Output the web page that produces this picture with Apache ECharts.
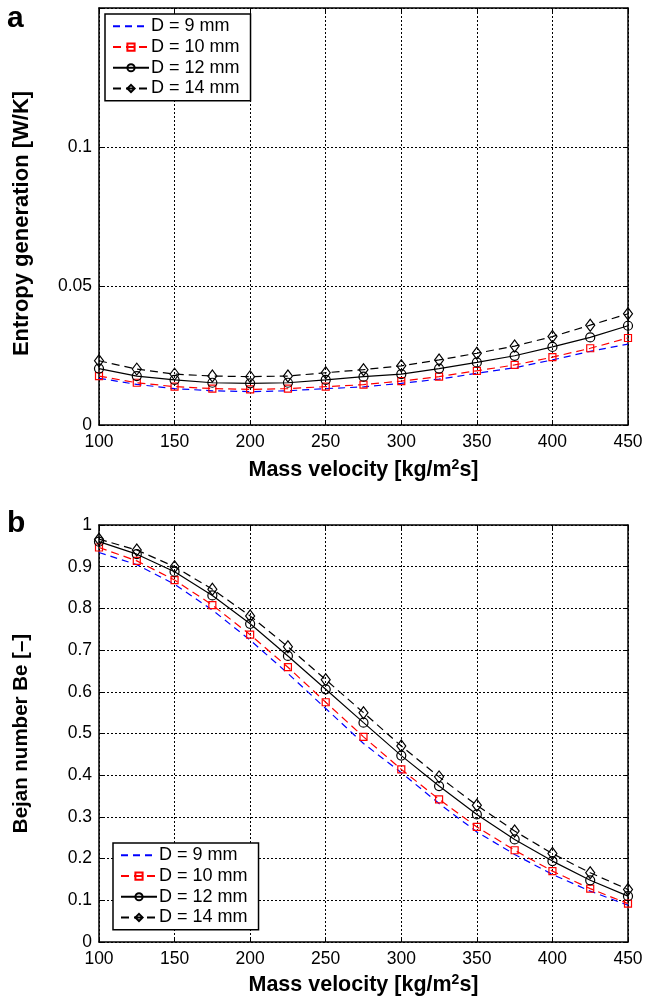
<!DOCTYPE html>
<html>
<head>
<meta charset="utf-8">
<script src="https://cdn.jsdelivr.net/npm/echarts@6/dist/echarts.min.js"></script>
<style>
html,body{margin:0;padding:0;background:#fff;}
#chart{width:646px;height:1000px;}
</style>
</head>
<body>
<div id="chart"></div>
<script>
// ---- data ----
const massVelocity = [100,125,150,175,200,225,250,275,300,325,350,375,400,425,450];
const seriesNames = ['D = 9 mm','D = 10 mm','D = 12 mm','D = 14 mm'];

// (a) Entropy generation [W/K]
const entropy9  = [0.0168,0.0146,0.0131,0.0123,0.0120,0.0123,0.0131,0.0137,0.0150,0.0165,0.0186,0.0206,0.0234,0.0265,0.0291];
const entropy10 = [0.0176,0.0152,0.0138,0.0131,0.0128,0.0131,0.0138,0.0145,0.0158,0.0174,0.0195,0.0216,0.0244,0.0276,0.0313];
const entropy12 = [0.0203,0.0176,0.0162,0.0152,0.0150,0.0152,0.0162,0.0174,0.0183,0.0203,0.0225,0.0249,0.0281,0.0315,0.0357];
const entropy14 = [0.0231,0.0201,0.0183,0.0176,0.0174,0.0176,0.0188,0.0199,0.0213,0.0234,0.0258,0.0284,0.0318,0.0359,0.0400];

// (b) Bejan number
const bejan9  = [0.934,0.905,0.858,0.796,0.724,0.644,0.560,0.476,0.406,0.332,0.264,0.210,0.162,0.122,0.088];
const bejan10 = [0.946,0.914,0.868,0.808,0.737,0.659,0.575,0.492,0.414,0.342,0.276,0.220,0.170,0.128,0.092];
const bejan12 = [0.960,0.930,0.888,0.831,0.763,0.686,0.606,0.526,0.447,0.374,0.306,0.246,0.194,0.148,0.110];
const bejan14 = [0.966,0.940,0.900,0.846,0.782,0.708,0.629,0.550,0.470,0.396,0.328,0.266,0.212,0.166,0.126];

const xTicks = {min:100, max:450, interval:50};
const yTicksA = {min:0, max:0.15, interval:0.05};
const yTicksB = {min:0, max:1, interval:0.1};

// ---- styles ----
const FONT = "'Liberation Sans', Arial, Helvetica, sans-serif";
const styles = [
  {color:'#0000ff', line:{type:[7,5], width:1.2}, symbol:'none', size:0},
  {color:'#ff0000', line:{type:[8,5], width:1.2}, symbol:'rect', size:7},
  {color:'#000000', line:{type:'solid', width:1.2}, symbol:'circle', size:9},
  {color:'#000000', line:{type:[8,5], width:1.2}, symbol:'diamond', size:[9,12]}
];

function pair(xs, ys){ return xs.map((x,i)=>[x, ys[i]]); }

function makeSeries(dataArrs, gi){
  return dataArrs.map((arr, k)=>{
    const s = styles[k];
    return {
      name: seriesNames[k], type:'line', xAxisIndex: gi*2, yAxisIndex: gi*2,
      data: pair(massVelocity, arr),
      symbol: s.symbol, symbolSize: s.size, showSymbol: s.symbol !== 'none',
      lineStyle: {color: s.color, width: s.line.width, type: s.line.type},
      itemStyle: {color: 'rgba(255,255,255,0)', borderColor: s.color, borderWidth: 1.2},
      z: 2 + k, silent: true
    };
  });
}

const axisLineStyle = {lineStyle:{color:'#000', width:1.5}};
function xAxes(gi, nameGap){
  return [
    {type:'value', gridIndex:gi, ...xTicks, position:'bottom',
     name:'{a|Mass velocity [kg/m}{s|2}{a|s]}', nameLocation:'middle', nameGap:nameGap,
     nameTextStyle:{rich:{
       a:{fontFamily:FONT, fontSize:21.5, fontWeight:'bold', color:'#000', lineHeight:25},
       s:{fontFamily:FONT, fontSize:14, fontWeight:'bold', color:'#000', verticalAlign:'top', lineHeight:15}
     }},
     axisLine:{show:true, onZero:false, ...axisLineStyle},
     axisTick:{show:true, inside:true, length:5, lineStyle:{color:'#000'}},
     axisLabel:{fontFamily:FONT, fontSize:17.5, color:'#000', margin:8},
     splitLine:{show:true, lineStyle:{color:'#000', type:[2,2], width:1}}},
    {type:'value', gridIndex:gi, ...xTicks, position:'top',
     axisLine:{show:true, onZero:false, ...axisLineStyle},
     axisTick:{show:true, inside:true, length:5, lineStyle:{color:'#000'}},
     axisLabel:{show:false}, splitLine:{show:false}}
  ];
}
function yAxes(gi, ticks, name, hideTop, pad, fs, gap){
  return [
    {type:'value', gridIndex:gi, ...ticks, position:'left',
     name:name, nameLocation:'middle', nameGap:gap,
     nameTextStyle:{fontFamily:FONT, fontSize:fs, fontWeight:'bold', color:'#000', padding:pad},
     axisLine:{show:true, onZero:false, ...axisLineStyle},
     axisTick:{show:true, inside:true, length:5, lineStyle:{color:'#000'}},
     axisLabel:{fontFamily:FONT, fontSize:17.5, color:'#000', margin:7,
       formatter:(v)=>{ if(hideTop && Math.abs(v-ticks.max)<1e-9) return ''; return String(+v.toFixed(3)); }},
     splitLine:{show:true, lineStyle:{color:'#000', type:[2,2], width:1}}},
    {type:'value', gridIndex:gi, ...ticks, position:'right',
     axisLine:{show:true, onZero:false, ...axisLineStyle},
     axisTick:{show:true, inside:true, length:5, lineStyle:{color:'#000'}},
     axisLabel:{show:false}, splitLine:{show:false}}
  ];
}

function legend(left, top){
  return {
    orient:'vertical', left:left, top:top, itemWidth:36, itemHeight:9, itemGap:0,
    padding:[2,11,2,7], backgroundColor:'#fff', borderColor:'#000', borderWidth:1.5, borderRadius:0,
    textStyle:{fontFamily:FONT, fontSize:18, color:'#000', lineHeight:20.7, padding:[0,0,0,-3]},
    selectedMode:false,
    data:[{name:seriesNames[0], itemStyle:{opacity:0}}, seriesNames[1], seriesNames[2], seriesNames[3]]
  };
}

const chart = echarts.init(document.getElementById('chart'), null, {renderer:'canvas'});
chart.setOption({
  animation:false,
  backgroundColor:'#fff',
  grid:[
    {left:99, right:18, top:8, height:417},
    {left:99, right:18, top:525, height:417}
  ],
  xAxis:[...xAxes(0, 33), ...xAxes(1, 31)],
  yAxis:[...yAxes(0, yTicksA, 'Entropy generation [W/K]', true, [0,14,0,0], 22, 66),
         ...yAxes(1, yTicksB, 'Bejan number Be [–]', false, [0,0,0,0], 20.5, 67)],
  legend:[legend(105, 14), legend(113, 843)],
  graphic:[
    {type:'text', left:7, top:4, style:{text:'a', font:"bold 30px "+FONT, fill:'#000'}},
    {type:'text', left:7, top:509, style:{text:'b', font:"bold 30px "+FONT, fill:'#000'}}
  ],
  series:[
    ...makeSeries([entropy9, entropy10, entropy12, entropy14], 0),
    ...makeSeries([bejan9, bejan10, bejan12, bejan14], 1)
  ]
});
</script>
</body>
</html>
